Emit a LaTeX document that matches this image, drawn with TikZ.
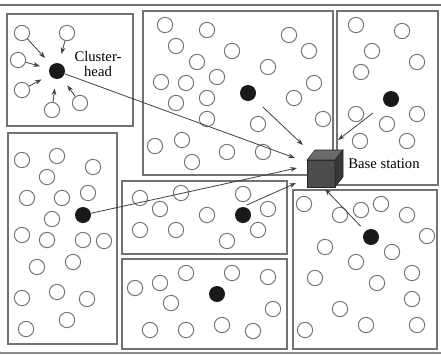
\documentclass[tikz,border=0pt]{standalone}
\usepackage{fontspec}
\setmainfont{Liberation Serif}
\usetikzlibrary{arrows.meta,calc}

\tikzset{
	sensor/.style={circle,draw=black!55,line width=0.7pt,minimum size=11.5pt,inner sep=0pt},
	head/.style={circle,fill=black!90,minimum size=12pt,inner sep=0pt},
	region/.style={draw=black!55,line width=1pt},
	link/.style={black!75,line width=0.6pt,-{Stealth[length=5pt,width=3.5pt]}},
	caption/.style={font=\fontsize{11}{12}\selectfont,inner sep=0pt}
}

\begin{document}
\begin{tikzpicture}[x=0.75pt,y=-0.75pt]
		\useasboundingbox (0,0) rectangle (441,354);
		
		% scan edges
		\draw[black!55,line width=1.3pt] (0,5) -- (441,5);
		\draw[black!45,line width=1pt] (0,353) -- (441,353);
		
		% regions
		\draw[region] (7,14) rectangle (133,126);
		\draw[region] (143,11) rectangle (333,175);
		\draw[region] (337,11) rectangle (438,185);
		\draw[region] (8,133) rectangle (117,344);
		\draw[region] (122,181) rectangle (287,254);
		\draw[region] (122,259) rectangle (287,349);
		\draw[region] (293,190) rectangle (437,349);
		
		% cluster 1 (upper left)
		\node[head] (h1) at (57,71) {};
		\node[sensor] (a1) at (22,33) {};
		\node[sensor] (a2) at (67,33) {};
		\node[sensor] (a3) at (18,60) {};
		\node[sensor] (a4) at (22,90) {};
		\node[sensor] (a5) at (52,110) {};
		\node[sensor] (a6) at (80,103) {};
		\node[caption,align=center] (chlabel) at (98,64) {Cluster-\\[-1pt]head};
		\foreach \n in {a1,a2,a3,a4,a5,a6}
			\draw[link,shorten >=7pt] (\n) -- (h1);
		
		% cluster 2 (upper middle)
		\node[head] (h2) at (248,93) {};
		\foreach \p [count=\i] in {(165,25),(207,30),(176,46),(197,62),(232,51),(289,35),
			(309,51),(268,67),(161,82),(186,83),(217,77),(207,98),(176,103),(314,83),
			(294,98),(323,119),(207,119),(258,124),(155,146),(182,140),(227,152),
			(263,152),(192,162)}
			\node[sensor] (b\i) at \p {};
		
		% cluster 3 (upper right)
		\node[head] (h3) at (391,99) {};
		\foreach \p [count=\i] in {(356,25),(402,31),(372,51),(417,62),(361,72),
			(356,114),(417,114),(387,124),(360,141),(407,141)}
			\node[sensor] (c\i) at \p {};
		
		% cluster 4 (left)
		\node[head] (h4) at (83,215) {};
		\foreach \p [count=\i] in {(22,160),(57,156),(93,167),(47,177),(27,198),
			(62,198),(88,193),(52,219),(22,235),(47,240),(83,240),(104,241),(37,267),
			(73,262),(22,298),(57,292),(87,299),(67,320),(26,329)}
			\node[sensor] (d\i) at \p {};
		
		% cluster 5 (centre)
		\node[head] (h5) at (243,215) {};
		\foreach \p [count=\i] in {(140,198),(181,193),(243,194),(160,209),(207,215),
			(268,209),(140,230),(176,230),(258,230),(227,241)}
			\node[sensor] (e\i) at \p {};
		
		% cluster 6 (bottom centre)
		\node[head] (h6) at (217,294) {};
		\foreach \p [count=\i] in {(135,288),(160,283),(186,273),(232,273),(268,277),
			(171,303),(273,309),(150,330),(186,330),(222,325),(253,331)}
			\node[sensor] (f\i) at \p {};
		
		% cluster 7 (bottom right)
		\node[head] (h7) at (371,237) {};
		\foreach \p [count=\i] in {(304,204),(340,215),(361,210),(381,204),(407,215),
			(427,236),(325,247),(392,252),(356,262),(315,278),(377,283),(412,273),
			(412,299),(340,309),(366,325),(305,330),(417,325)}
			\node[sensor] (g\i) at \p {};
		
		% base station
		\coordinate (bs) at (321,173); % front face centre
		\filldraw[black!70,draw=black!85] (307,160) rectangle (335,187);
		\filldraw[black!58,draw=black!85] (307,160) -- (315,150) -- (343,150) -- (335,160) -- cycle;
		\filldraw[black!78,draw=black!85] (335,160) -- (343,150) -- (343,177) -- (335,187) -- cycle;
		\node[caption] (bslabel) at (384,164) {Base station};
		
		% arrow ends at the base station
		\coordinate (t1) at (295,158);
		\coordinate (t2) at (303,145);
		\coordinate (t3) at (338,140);
		\coordinate (t4) at (297,168);
		\coordinate (t5) at (296,183);
		\coordinate (t7) at (325,189);
		
		\draw[link] (h1) -- (t1);
		\draw[link,shorten <=9pt] (h2) -- (t2);
		\draw[link,shorten <=11pt] (h3) -- (t3);
		\draw[link] (h4) -- (t4);
		\draw[link,shorten <=3pt] (h5.north) -- (t5);
		\draw[link,shorten <=5pt] (h7) -- (t7);
\end{tikzpicture}
\end{document}
